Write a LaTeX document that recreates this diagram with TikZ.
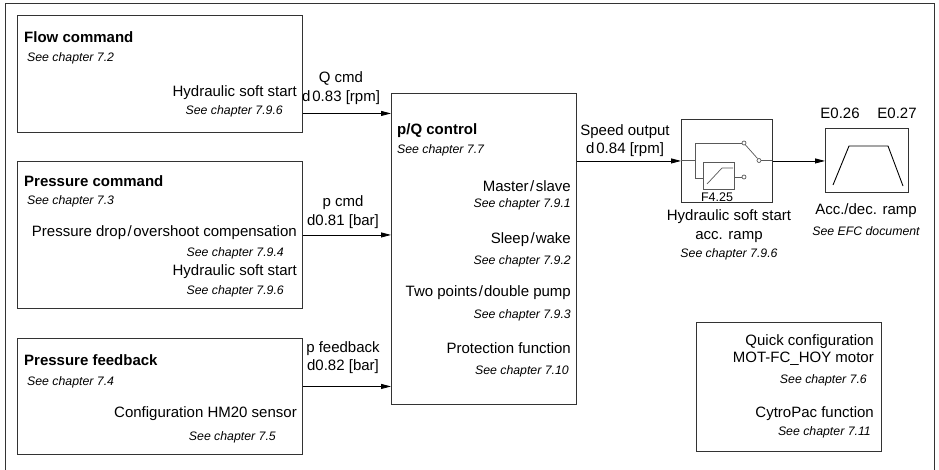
\documentclass[tikz,border=0pt]{standalone}
\usepackage{fontspec}
\setmainfont{Liberation Sans}
\usetikzlibrary{arrows.meta}

\begin{document}
\begin{tikzpicture}[x=1pt,y=-1pt]
\tikzset{boite/.style={draw=black!80, line width=0.9pt, anchor=north west, inner sep=0pt},
texte/.style={font=\fontsize{15}{18.5}\selectfont, inner sep=0pt},
titre/.style={font=\fontsize{15}{18.5}\selectfont\bfseries, inner sep=0pt, anchor=west},
voir/.style={font=\fontsize{12.3}{15}\selectfont\itshape, inner sep=0pt},
fleche/.style={draw=black, line width=0.8pt, -{Triangle[length=10pt,width=5pt]}},
symbole/.style={draw=black!65, line width=0.7pt}}
\useasboundingbox (0,0) rectangle (939,470);
\draw[black!80, line width=0.9pt] (5,471) -- (5,3) -- (934,3) -- (934,471);
% boxes
\node[boite, minimum width=285pt, minimum height=117pt] (B1) at (17,15) {};
\node[boite, minimum width=285pt, minimum height=147pt] (B2) at (17,161) {};
\node[boite, minimum width=285pt, minimum height=116pt] (B3) at (17,338) {};
\node[boite, minimum width=185pt, minimum height=311pt] (C) at (391,93) {};
\node[boite, minimum width=91pt, minimum height=83pt] (S) at (681,119) {};
\node[boite, minimum width=83pt, minimum height=64pt] (A) at (825,128.5) {};
\node[boite, minimum width=185pt, minimum height=129pt] (Q) at (696,322) {};
% flow command
\node[titre] (T1) at (24,37) {Flow command};
\node[voir, anchor=west] (V1) at (27,58) {See chapter 7.2};
\node[texte, anchor=east] (H1) at (297,93) {Hydraulic soft start};
\node[voir, anchor=east] (V2) at (283,111) {See chapter 7.9.6};
% pressure command
\node[titre] (T2) at (24,181) {Pressure command};
\node[voir, anchor=west] (V3) at (27,201) {See chapter 7.3};
\node[texte, anchor=east] (H2) at (297,233) {Pressure drop\kern1.5pt/\kern1.5pt overshoot compensation};
\node[voir, anchor=east] (V4) at (284,253) {See chapter 7.9.4};
\node[texte, anchor=east] (H3) at (297,272) {Hydraulic soft start};
\node[voir, anchor=east] (V5) at (284,291) {See chapter 7.9.6};
% pressure feedback
\node[titre] (T3) at (24,360) {Pressure feedback};
\node[voir, anchor=west] (V6) at (27,382) {See chapter 7.4};
\node[texte, anchor=east] (H4) at (297,414) {Configuration HM20 sensor};
\node[voir, anchor=east] (V7) at (276,437) {See chapter 7.5};
% p/Q control
\node[titre] (T4) at (397,131) {p/Q control};
\node[voir, anchor=west] (V8) at (397,150) {See chapter 7.7};
\node[texte, anchor=east] (H5) at (571,186) {Master\kern1.5pt/\kern1.5pt slave};
\node[voir, anchor=east] (V9) at (571,204) {See chapter 7.9.1};
\node[texte, anchor=east] (H6) at (571,240) {Sleep\kern1.5pt/\kern1pt wake};
\node[voir, anchor=east] (V10) at (571,261) {See chapter 7.9.2};
\node[texte, anchor=east] (H7) at (571,293) {Two points\kern1.5pt/\kern1pt double pump};
\node[voir, anchor=east] (V11) at (571,315) {See chapter 7.9.3};
\node[texte, anchor=east] (H8) at (571,348) {Protection function};
\node[voir, anchor=east] (V12) at (569,371) {See chapter 7.10};
% signals
\node[texte, align=center] (L1) at (341,88) {Q cmd\\d\kern2pt0.83 [rpm]};
\node[texte, align=center] (L2) at (343,212) {p cmd\\d0.81 [bar]};
\node[texte, align=center] (L3) at (343,357.5) {p feedback\\d0.82 [bar]};
\node[texte, align=center] (L4) at (625,140.5) {Speed output\\d\kern2pt0.84 [rpm]};
\draw[fleche] ([yshift=-39.5pt]B1.east) -- ([yshift=-39.5pt]B1.east -| C.west);
\draw[fleche] (B2.east) -- (B2.east -| C.west);
\draw[fleche] ([yshift=10pt]B3.east) -- ([yshift=10pt]B3.east -| C.west);
\draw[fleche] (C.east |- S.west) -- (S.west);
\draw[fleche] (S.east) -- (A.west |- S.east);
% soft start symbol
\draw[symbole] (681,160.5) -- (695,160.5);
\draw[symbole] (742,143) -- (695,143) -- (695,178) -- (703,178);
\draw[symbole] (703,162) rectangle (734,189);
\draw[symbole] (707,184) -- (722,168) -- (733,168);
\draw[symbole] (734,177) -- (742,177);
\draw[symbole] (744,143) circle (2pt) (744,177) circle (2pt) (759,160.5) circle (2pt);
\draw[symbole] (745.5,145) -- (757.5,158.5);
\draw[symbole] (761,160.5) -- (772,160.5);
\node[texte, font=\fontsize{12.5}{14}\selectfont] (F) at (717,197) {F4.25};
\node[texte] (H9) at (729,217) {Hydraulic soft start};
\node[texte] (H10) at (729,237) {acc. ramp};
\node[voir] (V13) at (729,254) {See chapter 7.9.6};
% acc./dec. ramp
\draw[line width=0.9pt] (833,185) -- (849,146) -- (888,146) -- (903,186);
\node[texte] (E1) at (840,113) {E0.26};
\node[texte] (E2) at (897,113) {E0.27};
\node[texte] (H11) at (866,211) {Acc./dec. ramp};
\node[voir] (V14) at (866,231) {See EFC document};
% quick configuration
\node[texte, anchor=east] (H12) at (874,342) {Quick configuration};
\node[texte, anchor=east] (H13) at (874,359) {MOT-FC\_HOY motor};
\node[voir, anchor=east] (V15) at (867,380) {See chapter 7.6};
\node[texte, anchor=east] (H14) at (874,414) {CytroPac function};
\node[voir, anchor=east] (V16) at (871,432) {See chapter 7.11};
\end{tikzpicture}
\end{document}
